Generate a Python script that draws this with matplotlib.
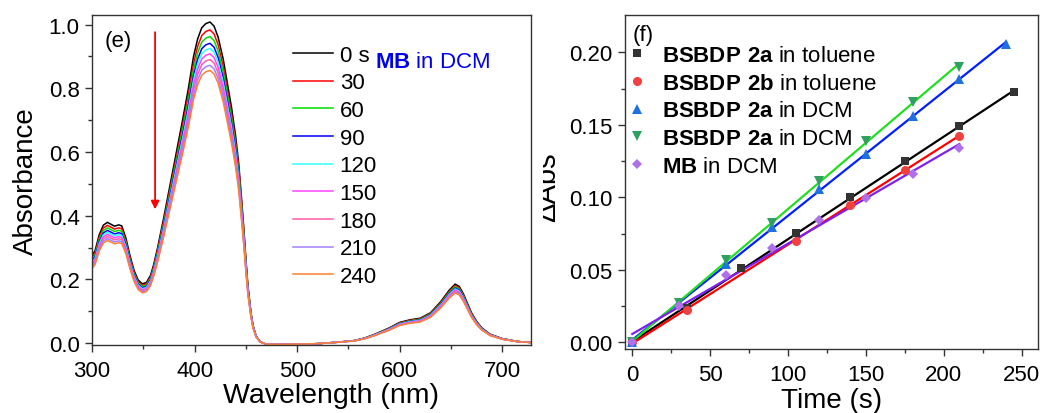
import numpy as np
import matplotlib
matplotlib.use('Agg')
import matplotlib.pyplot as plt
from matplotlib.transforms import Bbox

plt.rcParams['font.family'] = ['Liberation Sans', 'DejaVu Sans']
plt.rcParams['mathtext.fontset'] = 'custom'
plt.rcParams['mathtext.rm'] = 'Liberation Sans'
plt.rcParams['mathtext.bf'] = 'Liberation Sans:bold'

# ---- panel (e): absorbance spectra of MB in DCM (0 s curve)
wavelength = [300, 303, 307, 311, 315, 319, 322, 326, 329, 333, 337, 341, 345, 349,
              353, 357, 360, 364, 370, 376, 382, 388, 394, 399, 403, 407, 411, 415,
              419, 423, 428, 432, 436, 440, 443, 446, 448, 450, 452, 455, 457, 460,
              464, 470, 480, 500, 520, 540, 556, 566, 576, 590, 600, 610, 620, 630,
              640, 648, 654, 658, 662, 666, 670, 675, 680, 688, 700, 715, 728]
abs_0s = [0.275, 0.290, 0.340, 0.370, 0.379, 0.372, 0.367, 0.371, 0.368, 0.330,
          0.275, 0.228, 0.198, 0.186, 0.190, 0.212, 0.245, 0.300, 0.395, 0.495,
          0.595, 0.695, 0.800, 0.900, 0.955, 0.990, 1.003, 1.008, 0.995, 0.960,
          0.890, 0.815, 0.740, 0.650, 0.565, 0.445, 0.360, 0.265, 0.180, 0.095,
          0.055, 0.022, 0.004, -0.004, -0.005, -0.004, -0.002, 0.003, 0.008,
          0.016, 0.028, 0.048, 0.065, 0.073, 0.078, 0.095, 0.130, 0.165, 0.185,
          0.178, 0.155, 0.125, 0.095, 0.068, 0.048, 0.028, 0.014, 0.005, 0.002]
times = ['0 s', '30', '60', '90', '120', '150', '180', '210', '240']
# Soret peak height of each trace; the other traces follow the 0 s shape
peak_abs = [1.008, 0.983, 0.962, 0.941, 0.925, 0.908, 0.890, 0.872, 0.856]
spec_colors = ['#000000', '#ff0000', '#00dd00', '#0000ff', '#33ffff',
               '#ff44ff', '#ff5ca8', '#a080ff', '#ff8030']

# ---- panel (f): delta Abs vs irradiation time
t_2a_tol = [0, 35, 70, 105, 140, 175, 210, 245]
d_2a_tol = [0.0, 0.024, 0.051, 0.0752, 0.100, 0.1248, 0.149, 0.1724]
t_2b_tol = [0, 35, 105, 140, 175, 210]
d_2b_tol = [0.0, 0.0223, 0.0701, 0.0949, 0.119, 0.1425]
t_2a_dcm = [0, 30, 60, 90, 120, 150, 180, 210, 240]
d_2a_dcm = [0.0, 0.027, 0.054, 0.0798, 0.1057, 0.130, 0.156, 0.1816, 0.2057]
t_2a_dcm2 = [0, 30, 60, 90, 120, 150, 180, 210]
d_2a_dcm2 = [0.0, 0.027, 0.057, 0.082, 0.111, 0.139, 0.166, 0.190]
t_mb = [0, 30, 60, 90, 120, 150, 180, 210]
d_mb = [0.0, 0.025, 0.0464, 0.065, 0.084, 0.0994, 0.116, 0.134]

kin_labels = [r'$\mathbf{BSBDP\ 2a}$ in toluene', r'$\mathbf{BSBDP\ 2b}$ in toluene',
              r'$\mathbf{BSBDP\ 2a}$ in DCM', r'$\mathbf{BSBDP\ 2a}$ in DCM',
              r'$\mathbf{MB}$ in DCM']
kin_markers = ['s', 'o', '^', 'v', 'D']
kin_mcolors = ['#333333', '#f04040', '#2070e0', '#2ea060', '#b070e8']
kin_lcolors = ['#000000', '#ff0000', '#0020ff', '#22dd22', '#8020f0']
kin_msizes = [6, 6.5, 6.5, 6.5, 5.5]

fig = plt.figure(figsize=(10.42, 4.14), dpi=100)
ax1 = fig.add_axes([0.0883, 0.1643, 0.4213, 0.7971])
ax2 = fig.add_axes([0.5998, 0.1546, 0.3964, 0.8068])

FS = 16

def style_ax(ax):
    for sp in ax.spines.values():
        sp.set_linewidth(1.0)
        sp.set_color('#333333')
    ax.tick_params(which='both', direction='out', top=False, right=False,
                   labelsize=FS, color='#333333', width=1.0)
    ax.tick_params(axis='x', pad=6)
    ax.tick_params(axis='y', pad=4)
    ax.tick_params(which='major', length=5)
    ax.tick_params(which='minor', length=3)

# panel (e)
base = np.array(abs_0s)
for lab, pk, c in zip(times, peak_abs, spec_colors):
    ax1.plot(wavelength, base * pk / peak_abs[0], color=c, lw=1.1, label=lab)
ax1.set_xlim(300, 728)
ax1.set_ylim(-0.006, 1.03)
ax1.set_xticks([300, 400, 500, 600, 700])
ax1.set_xticks([350, 450, 550, 650], minor=True)
ax1.set_yticks([0.0, 0.2, 0.4, 0.6, 0.8, 1.0])
ax1.set_yticks([0.1, 0.3, 0.5, 0.7, 0.9], minor=True)
ax1.set_yticklabels(['0.0', '0.2', '0.4', '0.6', '0.8', '1.0'])
style_ax(ax1)
ax1.set_xlabel('Wavelength (nm)', fontsize=20.5)
ax1.set_ylabel('Absorbance', fontsize=20)
ax1.xaxis.set_label_coords(0.544, -0.112)
ax1.yaxis.set_label_coords(-0.12, 0.5)
ax1.text(326, 0.95, '(e)', fontsize=FS, ha='center', va='center')
ax1.annotate('', xy=(361.5, 0.42), xytext=(361.5, 0.976),
             arrowprops=dict(arrowstyle='-|>', color='#ff0000', lw=1.3,
                             mutation_scale=12, shrinkA=0, shrinkB=0))
ax1.text(575.8, 0.885, r'$\mathbf{MB}$ in DCM', color='#0000ee', fontsize=16,
         ha='left', va='center')
ax1.legend(loc='upper left', bbox_to_anchor=(0.458, 0.91), frameon=False,
           fontsize=FS, handlelength=1.8, handletextpad=0.3, labelspacing=0.3,
           borderpad=0, borderaxespad=0)

# panel (f)
kin_t = [t_2a_tol, t_2b_tol, t_2a_dcm, t_2a_dcm2, t_mb]
kin_d = [d_2a_tol, d_2b_tol, d_2a_dcm, d_2a_dcm2, d_mb]
for t, d, lc in zip(kin_t, kin_d, kin_lcolors):
    k, b = np.polyfit(t, d, 1)
    tt = np.array([min(t), max(t)])
    ax2.plot(tt, k * tt + b, color=lc, lw=1.6, zorder=2)
for t, d, m, mc, ms, lab in zip(kin_t, kin_d, kin_markers, kin_mcolors, kin_msizes, kin_labels):
    ax2.plot(t, d, ls='none', marker=m, color=mc, ms=ms, mew=0, label=lab, zorder=3)
ax2.set_xlim(-4.7, 260.5)
ax2.set_ylim(-0.0046, 0.2257)
ax2.set_xticks([0, 50, 100, 150, 200, 250])
ax2.set_xticks([25, 75, 125, 175, 225], minor=True)
ax2.set_yticks([0.0, 0.05, 0.10, 0.15, 0.20])
ax2.set_yticks([0.025, 0.075, 0.125, 0.175], minor=True)
ax2.set_yticklabels(['0.00', '0.05', '0.10', '0.15', '0.20'])
style_ax(ax2)
ax2.set_xlabel('Time (s)', fontsize=20)
ax2.xaxis.set_label_coords(0.5, -0.115)
ax2.text(0.045, 0.943, '(f)', transform=ax2.transAxes, fontsize=FS,
         ha='center', va='center')
ax2.legend(loc='upper left', bbox_to_anchor=(0.002, 0.91), frameon=False,
           fontsize=FS, handlelength=1.0, handletextpad=0.65, labelspacing=0.3,
           borderpad=0, borderaxespad=0, numpoints=1)

# y label of panel (f), partly hidden as in the original figure
lab = fig.text(0.5384, 0.547, '\u0394Abs', rotation=90, fontsize=21,
               ha='right', va='center')
lab.set_clip_box(Bbox.from_extents(543, 0, 1042, 414))
lab.set_clip_on(True)

fig.savefig('out.png', dpi=100)
